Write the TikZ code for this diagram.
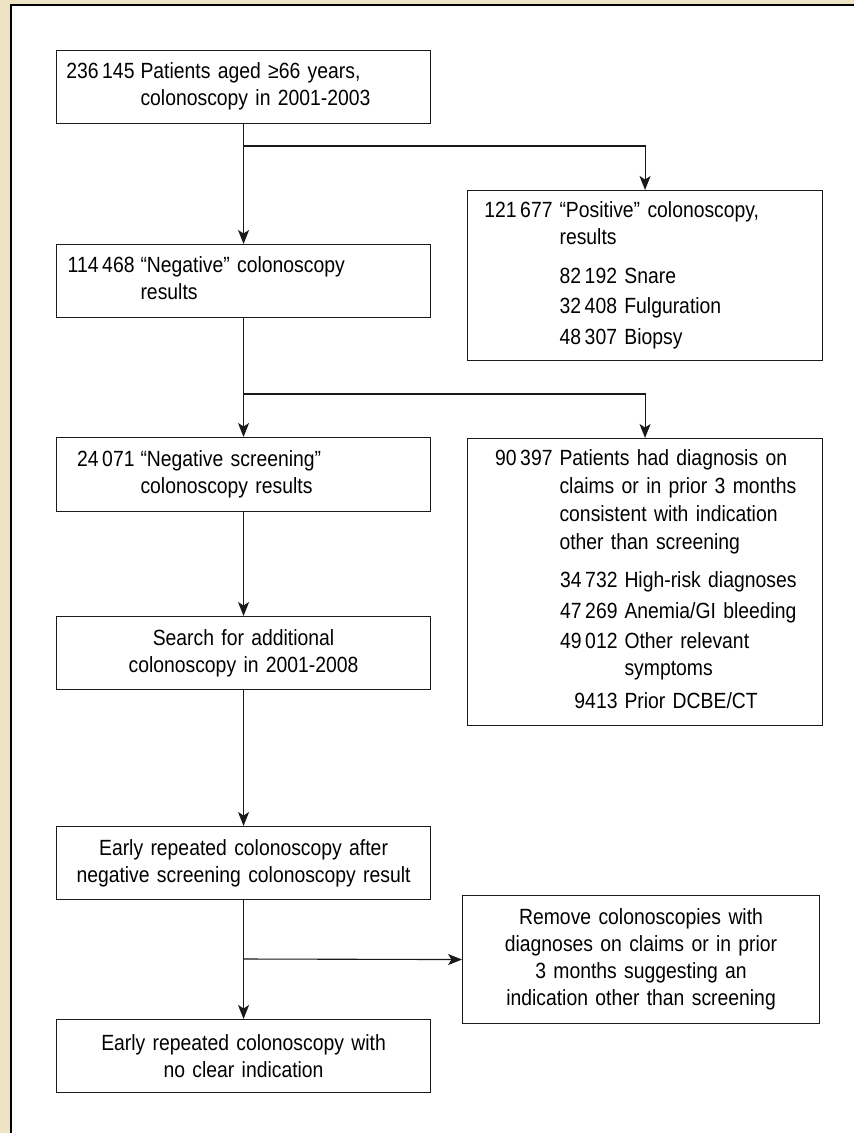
\documentclass[tikz,border=0pt]{standalone}
\usepackage{fontspec}
\setmainfont{Liberation Sans}[FakeStretch=0.88]
\usetikzlibrary{arrows.meta}
\definecolor{beige}{HTML}{EFE3C6}
\definecolor{ink}{HTML}{1A1A1A}
\newcommand{\numl}[1]{\makebox[72pt][r]{#1}}
\newcommand{\numr}[1]{\makebox[79pt][r]{#1}}
\newcommand{\numi}[1]{\makebox[58pt][r]{#1}\hspace{7pt}}
\begin{document}
\begin{tikzpicture}[x=1pt,y=-1pt,
  font=\fontsize{22}{27}\selectfont,
  box/.style={draw=ink, line width=1.1pt, fill=white, anchor=north west,
    inner xsep=6pt, inner ysep=0pt, align=left},
  cbox/.style={box, align=center},
  conn/.style={draw=ink, line width=1.1pt},
  arr/.style={conn, -{Stealth[length=14pt,width=11pt,inset=3.5pt]}}]
\useasboundingbox (0,0) rectangle (854,1133);
% frame
\fill[beige] (0,0) rectangle (854,1133);
\fill[white] (11,5) rectangle (854,1133);
\draw[black, line width=2pt] (11,1133) -- (11,5) -- (854,5);
% boxes
\node[box, minimum width=374pt, minimum height=73pt, text width=362pt] (b1) at (56,50)
 {\begin{tabular}{@{}l@{\hspace{6pt}}l@{}}\numl{236\,145} & Patients aged ≥66 years,\\ & colonoscopy in 2001-2003\end{tabular}};
\node[box, minimum width=374pt, minimum height=73pt, text width=362pt] (b2) at (56,244)
 {\begin{tabular}{@{}l@{\hspace{6pt}}l@{}}\numl{114\,468} & “Negative” colonoscopy\\ & results\end{tabular}};
\node[box, minimum width=355pt, minimum height=170pt, text width=343pt] (b3) at (467,190)
 {\begin{tabular}{@{}l@{\hspace{7pt}}l@{}}\numr{121\,677} & “Positive” colonoscopy,\\ & results\\[12pt]
  & 82\,192 Snare\\[3pt] & 32\,408 Fulguration\\[4pt] & 48\,307 Biopsy\end{tabular}};
\node[box, minimum width=374pt, minimum height=74pt, text width=362pt] (b4) at (56,437)
 {\begin{tabular}{@{}l@{\hspace{6pt}}l@{}}\numl{24\,071} & “Negative screening”\\ & colonoscopy results\end{tabular}};
\node[box, minimum width=355pt, minimum height=287pt, text width=343pt] (b4r) at (467,438)
 {\begin{tabular}{@{}l@{\hspace{7pt}}l@{}}\numr{90\,397} & Patients had diagnosis on\\[1pt]
  & claims or in prior 3 months\\[1pt] & consistent with indication\\[1pt] & other than screening\\[11pt]
  & \numi{34\,732}High-risk diagnoses\\[4pt] & \numi{47\,269}Anemia/GI bleeding\\[3pt]
  & \numi{49\,012}Other relevant\\ & \hspace{65pt}symptoms\\[6pt] & \numi{9413}Prior DCBE/CT\end{tabular}};
\node[cbox, minimum width=374pt, minimum height=73pt, text width=362pt] (search) at (56,616)
 {Search for additional\\colonoscopy in 2001-2008};
\node[cbox, minimum width=374pt, minimum height=73pt, text width=362pt] (after) at (56,826)
 {Early repeated colonoscopy after\\negative screening colonoscopy result};
\node[cbox, minimum width=357pt, minimum height=128pt, text width=345pt] (remove) at (462,895)
 {Remove colonoscopies with\\diagnoses on claims or in prior\\3 months suggesting an\\indication other than screening};
\node[cbox, minimum width=374pt, minimum height=73pt, text width=362pt] (final) at (56,1019)
 {Early repeated colonoscopy with\\no clear indication};
% connectors
\coordinate (j1) at (243,146);
\coordinate (j2) at (243,394);
\coordinate (j3) at (243,959);
\draw[arr] (b1.south) -- (b2.north);
\draw[arr] (j1) -| (b3.north);
\draw[arr] (b2.south) -- (b4.north);
\draw[arr] (j2) -| (b4r.north);
\draw[arr] (b4.south) -- (search.north);
\draw[arr] (search.south) -- (after.north);
\draw[arr] (after.south) -- (final.north);
\draw[arr] (j3) -- (remove.west);
\end{tikzpicture}
\end{document}
